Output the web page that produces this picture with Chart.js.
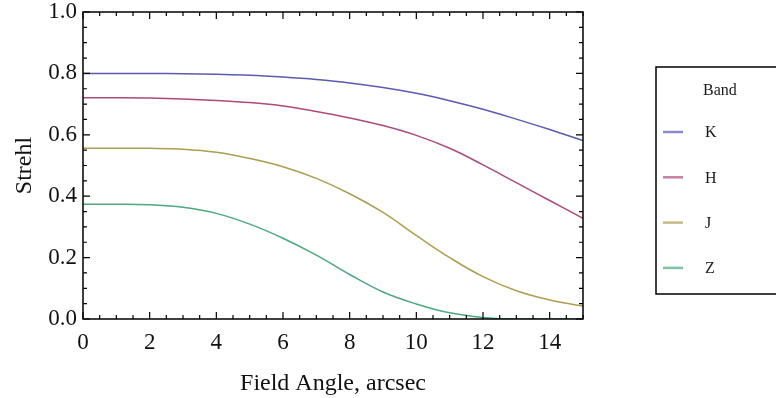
<!DOCTYPE html>
<html>
<head>
<meta charset="utf-8">
<script src="https://cdn.jsdelivr.net/npm/chart.js@4/dist/chart.umd.min.js"></script>
<style>
  html, body { margin: 0; padding: 0; background: #fff; }
  #wrap { width: 776px; height: 398px; position: relative; }
</style>
</head>
<body>
<div id="wrap"><canvas id="strehlChart" width="776" height="398"></canvas></div>
<script>
// field angle (arcsec) and Strehl per band
const fieldAngle = [0, 1, 2, 3, 4, 5, 6, 7, 8, 9, 10, 11, 12, 13, 14, 15];
const strehlK = [0.800, 0.800, 0.800, 0.799, 0.797, 0.794, 0.788, 0.780, 0.769, 0.754, 0.735, 0.711, 0.683, 0.651, 0.617, 0.581];
const strehlH = [0.721, 0.721, 0.720, 0.717, 0.712, 0.705, 0.694, 0.676, 0.655, 0.630, 0.598, 0.556, 0.502, 0.444, 0.386, 0.328];
const strehlJ = [0.556, 0.556, 0.556, 0.553, 0.543, 0.523, 0.496, 0.458, 0.408, 0.347, 0.272, 0.200, 0.138, 0.092, 0.062, 0.042];
const strehlZ = [0.374, 0.374, 0.372, 0.364, 0.344, 0.309, 0.263, 0.208, 0.145, 0.088, 0.049, 0.020, 0.005, 0.000, 0.000, 0.000];
const bands = ['K', 'H', 'J', 'Z'];
const bandColors = ['#5a5ab2', '#ad4a7a', '#ad9d50', '#4ca87e'];
const yTicks = [0, 0.2, 0.4, 0.6, 0.8, 1.0];
const xTicks = [0, 2, 4, 6, 8, 10, 12, 14];

const serif = '"Liberation Serif", "Times New Roman", serif';
const series = [strehlK, strehlH, strehlJ, strehlZ];

// frame + inward ticks on all four sides, like the Mathematica frame
const framePlugin = {
  id: 'frame',
  afterDraw(chart) {
    const { ctx, chartArea: a, scales: { x, y } } = chart;
    ctx.save();
    ctx.strokeStyle = '#000';
    ctx.lineWidth = 1.5;
    ctx.strokeRect(a.left, a.top, a.right - a.left, a.bottom - a.top);
    ctx.lineWidth = 1.2;
    ctx.beginPath();
    for (let i = 0; i <= 30; i++) {
      const px = x.getPixelForValue(i / 2);
      const len = i % 4 === 0 ? 7 : 4;
      ctx.moveTo(px, a.bottom); ctx.lineTo(px, a.bottom - len);
      ctx.moveTo(px, a.top); ctx.lineTo(px, a.top + len);
    }
    for (let i = 0; i <= 20; i++) {
      const py = y.getPixelForValue(i / 20);
      const len = i % 4 === 0 ? 7 : 4;
      ctx.moveTo(a.left, py); ctx.lineTo(a.left + len, py);
      ctx.moveTo(a.right, py); ctx.lineTo(a.right - len, py);
    }
    ctx.stroke();
    ctx.restore();
  }
};

// boxed legend on the right
const boxLegend = {
  id: 'boxLegend',
  afterDraw(chart) {
    const ctx = chart.ctx;
    ctx.save();
    ctx.strokeStyle = '#000';
    ctx.lineWidth = 1.5;
    ctx.strokeRect(656, 67, 140, 227);
    ctx.fillStyle = '#1a1a1a';
    ctx.font = '16px ' + serif;
    ctx.textBaseline = 'middle';
    ctx.textAlign = 'left';
    ctx.fillText('Band', 703, 91);
    chart.data.datasets.forEach((ds, i) => {
      const yy = 132 + i * 45.3;
      ctx.strokeStyle = ds.borderColor;
      ctx.globalAlpha = 0.7;
      ctx.lineWidth = 2.5;
      ctx.beginPath();
      ctx.moveTo(663, yy); ctx.lineTo(683, yy);
      ctx.stroke();
      ctx.globalAlpha = 1;
      ctx.fillText(ds.label, 705, yy + 1);
    });
    ctx.restore();
  }
};

new Chart(document.getElementById('strehlChart'), {
  type: 'line',
  data: {
    datasets: bands.map((b, i) => ({
      label: b,
      data: fieldAngle.map((fa, j) => ({ x: fa, y: series[i][j] })),
      borderColor: bandColors[i],
      borderWidth: 1.5,
      pointRadius: 0,
      tension: 0.4,
      fill: false
    }))
  },
  options: {
    responsive: false,
    animation: false,
    layout: { padding: { top: 12, right: 193, bottom: 0, left: 0 } },
    plugins: { legend: { display: false }, tooltip: { enabled: false } },
    scales: {
      x: {
        type: 'linear',
        min: 0,
        max: 15,
        afterFit: s => { s.height = 79; s.paddingLeft = 0; s.paddingRight = 0; },
        afterBuildTicks: s => { s.ticks = xTicks.map(v => ({ value: v })); },
        grid: { display: false },
        border: { display: false },
        ticks: { color: '#111', padding: 2, font: { family: serif, size: 23 } },
        title: {
          display: true,
          text: 'Field Angle, arcsec',
          color: '#111',
          padding: { top: 0, bottom: 0 },
          font: { family: serif, size: 24 }
        }
      },
      y: {
        min: 0,
        max: 1,
        afterFit: s => { s.width = 83; s.paddingTop = 0; s.paddingBottom = 0; },
        afterBuildTicks: s => { s.ticks = yTicks.map(v => ({ value: v })); },
        grid: { display: false, tickLength: 0 },
        border: { display: false },
        ticks: {
          color: '#111',
          padding: 6,
          font: { family: serif, size: 23 },
          callback: v => Number(v).toFixed(1)
        },
        title: {
          display: true,
          text: 'Strehl',
          color: '#111',
          padding: { top: 10, bottom: 0 },
          font: { family: serif, size: 24 }
        }
      }
    }
  },
  plugins: [framePlugin, boxLegend]
});
</script>
</body>
</html>
